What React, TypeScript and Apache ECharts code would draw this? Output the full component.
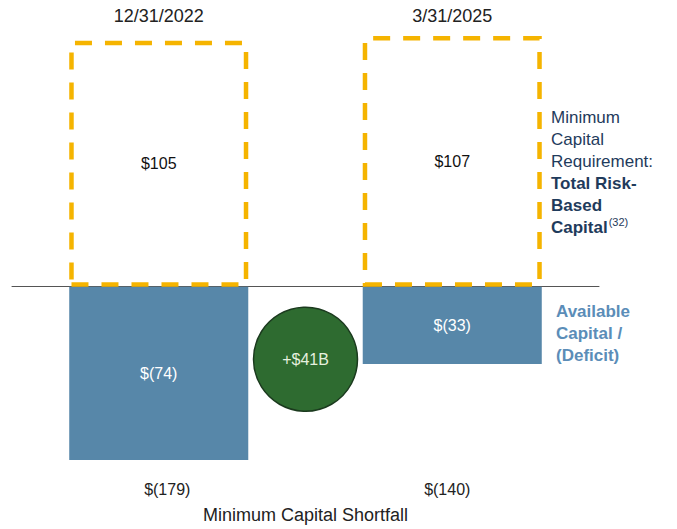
import React, { useEffect, useRef } from "react";
import * as echarts from "echarts";

const categories = ["12/31/2022", "3/31/2025"];
const requirement = [105, 107];
const available = [-74, -33];
const shortfall = [-179, -140];
const improvement = 41;
const circleY = -31;

const fmt = (v: number) => (v < 0 ? `$(${Math.abs(v)})` : `$${v}`);

export default function App() {
  const ref = useRef<HTMLDivElement>(null);
  useEffect(() => {
    if (!ref.current) return;
    const chart = echarts.init(ref.current, undefined, { renderer: "svg" });
    const font = "Liberation Sans, Arial, sans-serif";
    chart.setOption({
      animation: false,
      textStyle: { fontFamily: font },
      grid: { left: 12, right: 78, top: 29, bottom: 53, containLabel: false },
      xAxis: [
        {
          type: "category",
          data: categories,
          position: "bottom",
          axisLine: { onZero: true, lineStyle: { color: "#555", width: 1 } },
          axisTick: { show: false },
          axisLabel: { show: false },
          splitLine: { show: false },
        },
        {
          type: "category",
          data: categories,
          position: "top",
          axisLine: { show: false, onZero: false },
          axisTick: { show: false },
          axisLabel: { fontSize: 18, color: "#222", margin: 4, fontFamily: font },
        },
        {
          type: "category",
          data: categories,
          position: "bottom",
          axisLine: { show: false, onZero: false },
          axisTick: { show: false },
          axisLabel: {
            fontSize: 16,
            color: "#222",
            margin: 7,
            fontFamily: font,
            formatter: (_v: string, i: number) => `{${i === 0 ? "l" : "r"}|${fmt(shortfall[i])}}`,
            rich: {
              l: { fontSize: 16, color: "#222", fontFamily: font, padding: [0, 0, 0, 17] },
              r: { fontSize: 16, color: "#222", fontFamily: font, padding: [0, 10, 0, 0] },
            },
          },
          name: "Minimum Capital Shortfall",
          nameLocation: "middle",
          nameGap: 32,
          nameTextStyle: { fontSize: 18, color: "#222", fontFamily: font },
        },
        { type: "value", min: 0, max: 2, show: false },
      ],
      yAxis: { type: "value", min: -80, max: 110, show: false, splitLine: { show: false } },
      series: [
        {
          name: "Available",
          type: "bar",
          stack: "a",
          xAxisIndex: 0,
          barWidth: "61%",
          data: available,
          itemStyle: { color: "#5787A9" },
          label: {
            show: true,
            position: "inside",
            color: "#fff",
            fontSize: 16,
            fontFamily: font,
            formatter: (p: any) => fmt(p.value),
          },
          z: 2,
        },
        {
          name: "Requirement",
          type: "bar",
          stack: "a",
          xAxisIndex: 0,
          barWidth: "61%",
          data: requirement,
          itemStyle: {
            color: "rgba(0,0,0,0)",
            borderColor: "#F5B400",
            borderWidth: 4.5,
            borderType: [17, 13],
          },
          label: {
            show: true,
            position: "inside",
            color: "#111",
            fontSize: 16,
            fontFamily: font,
            formatter: (p: any) => fmt(p.value),
          },
          z: 3,
        },
        {
          name: "Change",
          type: "scatter",
          xAxisIndex: 3,
          data: [[1, circleY]],
          symbolSize: 104,
          itemStyle: { color: "#2E6B30", borderColor: "#1B3A1E", borderWidth: 1.5, opacity: 1 },
          label: {
            show: true,
            position: "inside",
            color: "#E6F0DF",
            fontSize: 16,
            fontFamily: font,
            formatter: () => `+$${improvement}B`,
          },
          z: 4,
        },
      ],
      graphic: [
        {
          type: "text",
          left: 551,
          top: 106,
          style: {
            text: "Minimum\nCapital\nRequirement:\n{b|Total Risk-}\n{b|Based}\n{b|Capital}{s|(32)}",
            fill: "#1F3B5C",
            fontSize: 17,
            lineHeight: 22,
            fontFamily: font,
            rich: {
              b: { fontWeight: "bold", fontSize: 17, lineHeight: 22, fill: "#1F3B5C", fontFamily: font },
              s: { fontSize: 11, lineHeight: 22, verticalAlign: "top", padding: [0, 0, 8, 1], fill: "#1F3B5C", fontFamily: font },
            },
          },
        },
        {
          type: "text",
          left: 556,
          top: 300,
          style: {
            text: "Available\nCapital /\n(Deficit)",
            fill: "#5B8DB8",
            fontSize: 17,
            fontWeight: "bold",
            lineHeight: 22,
            fontFamily: font,
          },
        },
      ],
    });
    return () => chart.dispose();
  }, []);
  return (
    <div
      ref={ref}
      style={{ position: "fixed", left: 0, top: 0, width: 677, height: 529, background: "#fff" }}
    />
  );
}
